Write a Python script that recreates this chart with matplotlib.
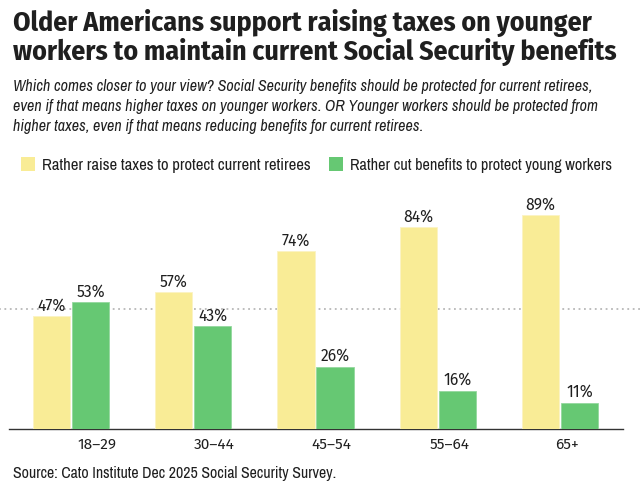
import matplotlib
matplotlib.use("Agg")
import matplotlib.pyplot as plt
import numpy as np

categories = ["18–29", "30–44", "45–54", "55–64", "65+"]
raise_taxes = [47, 57, 74, 84, 89]
cut_benefits = [53, 43, 26, 16, 11]
series_names = ["Rather raise taxes to protect current retirees",
                "Rather cut benefits to protect young workers"]
title_lines = ["Older Americans support raising taxes on younger",
               "workers to maintain current Social Security benefits"]
subtitle_lines = ["Which comes closer to your view? Social Security benefits should be protected for current retirees,",
                  "even if that means higher taxes on younger workers. OR Younger workers should be protected from",
                  "higher taxes, even if that means reducing benefits for current retirees."]
source = "Source: Cato Institute Dec 2025 Social Security Survey."

YELLOW = "#F9EC96"
GREEN = "#66C873"
TEXT = "#1f1f1f"

TITLE_F = ["Fira Sans Condensed", "Roboto Condensed", "DejaVu Sans"]
NARROW = ["Archivo Narrow", "Roboto Condensed", "DejaVu Sans"]
REG = ["Fira Sans", "Liberation Sans", "DejaVu Sans"]

W, H = 640, 490
fig = plt.figure(figsize=(6.4, 4.9), dpi=100)
ax = fig.add_axes([9 / W, 1 - 429 / H, 614 / W, 240 / H])


def px(xp, yp):
    return xp / W, 1 - yp / H


def fit(texts, target_px):
    """Scale the font size so that the widest text spans target_px."""
    fig.canvas.draw()
    r = fig.canvas.get_renderer()
    wmax = max(t.get_window_extent(r).width for t in texts)
    for t in texts:
        t.set_fontsize(t.get_fontsize() * target_px / wmax)


x = np.arange(len(categories))
w = 0.305
off = 0.16
b1 = ax.bar(x - off, raise_taxes, w, color=YELLOW, edgecolor="#fbf3c4", linewidth=0.6, zorder=3)
b2 = ax.bar(x + off, cut_benefits, w, color=GREEN, edgecolor="#94d89e", linewidth=0.6, zorder=3)

labels = []
for bars, vals in ((b1, raise_taxes), (b2, cut_benefits)):
    for r, v in zip(bars, vals):
        labels.append(ax.annotate(f"{v}%", (r.get_x() + r.get_width() / 2, v), xytext=(0, 1.5),
                                  textcoords="offset points", ha="center", va="bottom",
                                  fontsize=10, family=REG, color=TEXT, zorder=4))

ax.set_xlim(-0.507, 4.515)
ax.set_ylim(0, 100)

# 50% reference line spanning the full figure width
ax.axhline(50, xmin=-0.02, xmax=1.05, color="#b8b8b8", linestyle=(0, (1, 2)),
           linewidth=1.3, zorder=1, clip_on=False)

for s in ("top", "right", "left"):
    ax.spines[s].set_visible(False)
ax.spines["bottom"].set_color("#333333")
ax.spines["bottom"].set_linewidth(1.0)
ax.set_yticks([])
ax.set_xticks(0.213 + 0.96 * x)
ax.set_xticklabels(categories, fontsize=10, family=REG, color=TEXT)
ax.tick_params(axis="x", length=0, pad=6)

# title
t_objs = []
for i, line in enumerate(title_lines):
    t_objs.append(fig.text(*px(13, 31 + 29 * i), line, ha="left", va="baseline",
                           fontsize=20, fontweight="bold", family=TITLE_F, color=TEXT))
fit(t_objs, 604)

s_objs = []
for i, line in enumerate(subtitle_lines):
    s_objs.append(fig.text(*px(13, 90.5 + 20.5 * i), line, ha="left", va="baseline",
                           fontsize=11, style="italic", family=NARROW, color=TEXT))
fit(s_objs, 584)

# legend
lx = [21, 329]
tx = [42, 350]
tw = [270, 262]
for i, (name, col) in enumerate(zip(series_names, [YELLOW, GREEN])):
    fig.patches.append(plt.Rectangle(px(lx[i], 171), 14 / W, 14 / H,
                                     transform=fig.transFigure, facecolor=col,
                                     edgecolor="none"))
    lt = fig.text(*px(tx[i], 164), name, ha="left", va="center_baseline",
                  fontsize=11, family=NARROW, color=TEXT)
    fit([lt], tw[i])

src = fig.text(*px(13, 472), source, ha="left", va="center_baseline", fontsize=11,
               family=NARROW, color=TEXT)
fit([src], 324)

# data labels: "47%" about 28 px wide
fit([labels[0]], 28)
fs = labels[0].get_fontsize()
for l in labels:
    l.set_fontsize(fs)

# tick labels: "18–29" about 39 px wide
ticks = ax.get_xticklabels()
fit([ticks[0]], 39)
tfs = ticks[0].get_fontsize()
for tl in ticks:
    tl.set_fontsize(tfs)

fig.savefig("out.png", dpi=100)
